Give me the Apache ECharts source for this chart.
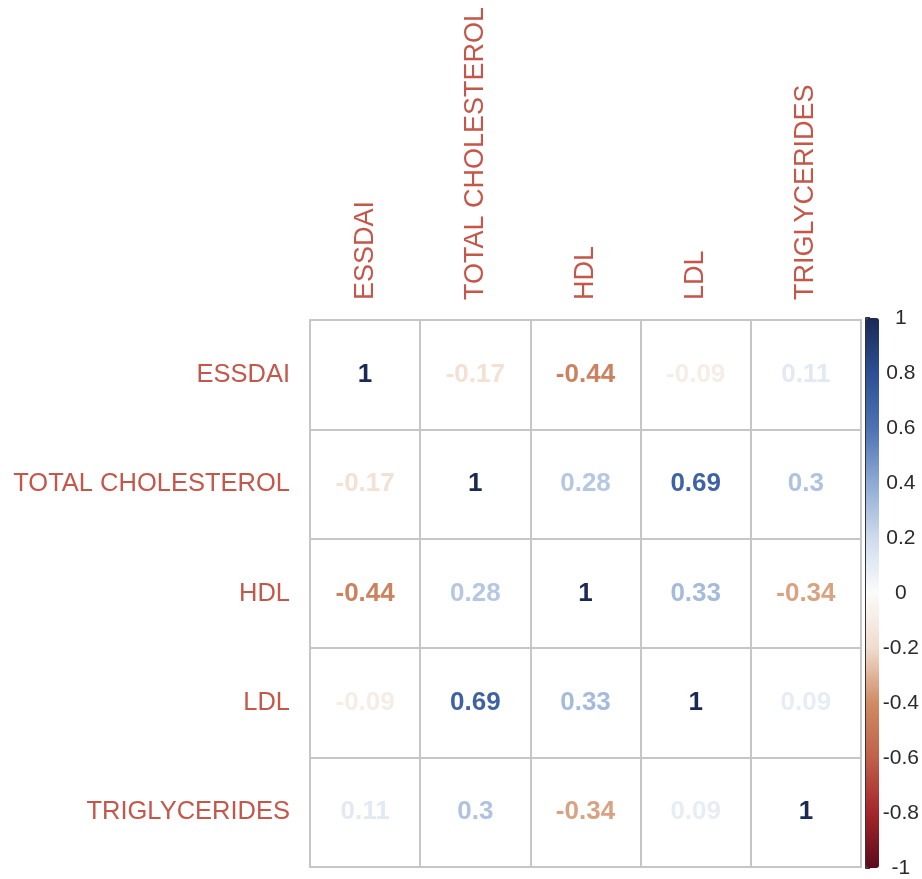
<!DOCTYPE html>
<html>
<head>
<meta charset="utf-8">
<script src="https://cdn.jsdelivr.net/npm/echarts@6/dist/echarts.min.js"></script>
<style>
  html, body { margin: 0; padding: 0; background: #ffffff; }
  #chart { width: 922px; height: 879px; }
</style>
</head>
<body>
<div id="chart"></div>
<script>
// Variables of the correlation matrix (same order on both axes)
const variables = ['ESSDAI', 'TOTAL CHOLESTEROL', 'HDL', 'LDL', 'TRIGLYCERIDES'];

// Pearson correlation coefficients, one row per variable
const rowEssdai = [1, -0.17, -0.44, -0.09, 0.11];
const rowTotalChol = [-0.17, 1, 0.28, 0.69, 0.3];
const rowHdl = [-0.44, 0.28, 1, 0.33, -0.34];
const rowLdl = [-0.09, 0.69, 0.33, 1, 0.09];
const rowTrig = [0.11, 0.3, -0.34, 0.09, 1];
const matrix = [rowEssdai, rowTotalChol, rowHdl, rowLdl, rowTrig];

// Colour legend range and its tick spacing
const legendMin = -1;
const legendMax = 1;
const legendStep = 0.2;

// Diverging red-white-blue ramp from -1 to 1
const ramp = ['#5c0a1a', '#a3262b', '#c0604a', '#cf8b64', '#f0dccd', '#fbfbfb',
              '#cfdbec', '#8eaad4', '#4d72b2', '#2d4f93', '#1b2a55'];

const cells = [];
matrix.forEach((row, r) => {
  row.forEach((v, c) => {
    cells.push([c, r, v]);
  });
});

const labelRed = '#c4574a';
const gridGray = '#c6c6c6';
const fontFamily = 'Liberation Sans, Arial, sans-serif';

const chart = echarts.init(document.getElementById('chart'), null, { renderer: 'canvas' });
chart.setOption({
  animation: false,
  backgroundColor: '#ffffff',
  grid: [
    { left: 310, top: 320, width: 551, height: 547, show: true,
      borderColor: gridGray, borderWidth: 2, backgroundColor: '#ffffff' },
    { left: 866, top: 318, width: 13, height: 550, show: false }
  ],
  xAxis: [
    {
      gridIndex: 0, type: 'category', data: variables, position: 'top',
      axisLine: { show: false }, axisTick: { show: false },
      splitLine: { show: true, lineStyle: { color: gridGray, width: 2 } },
      axisLabel: { rotate: -90, margin: 20, color: labelRed, fontSize: 27, fontFamily }
    },
    { gridIndex: 1, type: 'value', show: false, min: 0, max: 1 }
  ],
  yAxis: [
    {
      gridIndex: 0, type: 'category', data: variables, inverse: true,
      axisLine: { show: false }, axisTick: { show: false },
      splitLine: { show: true, lineStyle: { color: gridGray, width: 2 } },
      axisLabel: { margin: 20, color: labelRed, fontSize: 25.5, fontFamily }
    },
    {
      gridIndex: 1, type: 'value', position: 'right',
      min: legendMin, max: legendMax, interval: legendStep,
      axisLine: { show: true, lineStyle: { color: '#333333', width: 2 } },
      axisTick: { show: true, length: 4, lineStyle: { color: '#333333', width: 2 } },
      splitLine: { show: false },
      axisLabel: { margin: 30, align: 'center', color: '#2a2a2a', fontSize: 21, fontFamily }
    }
  ],
  visualMap: {
    type: 'continuous',
    min: legendMin, max: legendMax,
    seriesIndex: 0,
    calculable: false,
    hoverLink: false,
    orient: 'vertical',
    left: 866, top: 318,
    itemWidth: 13, itemHeight: 550,
    padding: 0,
    text: null,
    showLabel: false,
    inRange: { color: ramp }
  },
  series: [
    {
      // correlation values written in each cell, coloured by the legend ramp
      type: 'custom',
      xAxisIndex: 0, yAxisIndex: 0,
      data: cells,
      encode: { x: 0, y: 1 },
      silent: true,
      renderItem: function (params, api) {
        const pt = api.coord([api.value(0), api.value(1)]);
        return {
          type: 'text',
          x: pt[0], y: pt[1],
          style: {
            text: String(api.value(2)),
            fill: api.visual('color'),
            font: 'bold 26px ' + fontFamily,
            align: 'center',
            verticalAlign: 'middle'
          }
        };
      }
    }
  ]
});
</script>
</body>
</html>
